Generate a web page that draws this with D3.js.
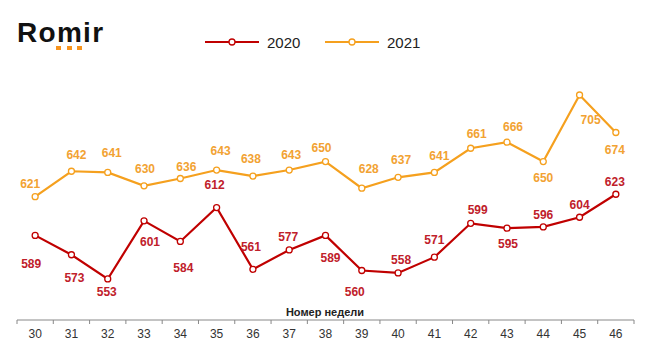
<!DOCTYPE html>
<html><head><meta charset="utf-8">
<script src="https://cdn.jsdelivr.net/npm/d3@7"></script>
<style>body{margin:0;background:#fff}svg{display:block}</style>
</head><body>
<script>
const weeks = ["30","31","32","33","34","35","36","37","38","39","40","41","42","43","44","45","46"];
const values2020 = [589,573,553,601,584,612,561,577,589,560,558,571,599,595,596,604,623];
const values2021 = [621,642,641,630,636,643,638,643,650,628,637,641,661,666,650,705,674];
const seriesNames = ["2020","2021"];
const axisTitle = "Номер недели";
// label nudges [dx, dy] relative to the point (label centre)
const place2020 = [[-4,28],[3,23],[-1,13],[6,21],[3,26],[-2,-23],[-2,-23],[-1,-13],[5,22],[-7,21],[3,-13],[0,-17],[7,-14],[1,16],[0,-12],[0,-13],[-1,-13]];
const place2021 = [[-5,-13],[5,-17],[4,-20],[1,-17],[6,-12],[4,-19],[-2,-17],[2,-15],[-4,-14],[7,-19],[3,-18],[5,-17],[6,-15],[6,-16],[0,16],[11,25],[-1,17]];

const W=653,H=359;
const svg=d3.select("body").append("svg").attr("width",W).attr("height",H);
const x=d3.scaleBand().domain(weeks).range([17,634]);
const y=d3.scaleLinear().domain([540,720]).range([294.7,76.85]);
const cx=d=>x(d)+x.bandwidth()/2;
const FONT="Liberation Sans, Arial, sans-serif";

// logo
svg.append("text").attr("x",17).attr("y",42).attr("font-family",FONT)
  .attr("font-weight","bold").attr("font-size",28).attr("fill","#111").attr("letter-spacing","1.3").text("Romir");
[56,67,77].forEach(px=>svg.append("rect").attr("x",px).attr("y",46).attr("width",5).attr("height",4).attr("fill","#F7941D"));

// axis
const ax=svg.append("g").attr("transform","translate(0,320)").call(d3.axisBottom(x).tickSize(0).tickPadding(9));
ax.select(".domain").attr("stroke","#888").attr("stroke-width",1).attr("d","M17,0H634");
ax.selectAll("text").attr("font-family",FONT).attr("font-size",12).attr("fill","#333");
const bounds=weeks.map(w=>x(w)).concat([634]);
svg.append("g").selectAll("line").data(bounds).join("line")
  .attr("x1",d=>d).attr("x2",d=>d).attr("y1",320).attr("y2",324).attr("stroke","#888");
svg.append("text").attr("x",325).attr("y",316).attr("text-anchor","middle")
  .attr("font-family",FONT).attr("font-weight","bold").attr("font-size",11).attr("fill","#222").text(axisTitle);

const series=[
  {name:seriesNames[0],vals:values2020,place:place2020,color:"#C00000",lab:"#C0202A"},
  {name:seriesNames[1],vals:values2021,place:place2021,color:"#F5A01E",lab:"#F2A232"}
];
const line=d3.line().x((d,i)=>cx(weeks[i])).y(d=>y(d));
series.forEach(s=>{
  const g=svg.append("g");
  g.append("path").attr("d",line(s.vals)).attr("fill","none").attr("stroke",s.color).attr("stroke-width",2.2);
  g.selectAll("circle").data(s.vals).join("circle").attr("cx",(d,i)=>cx(weeks[i])).attr("cy",d=>y(d))
    .attr("r",3).attr("fill","#fff").attr("stroke",s.color).attr("stroke-width",1.3);
  g.selectAll("text").data(s.vals).join("text")
    .attr("x",(d,i)=>cx(weeks[i])+s.place[i][0])
    .attr("y",(d,i)=>y(d)+s.place[i][1]+4.3)
    .attr("text-anchor","middle").attr("font-family",FONT)
    .attr("font-weight","bold").attr("font-size",12).attr("fill",s.lab).text(d=>d);
});

// legend
const leg=[{x:205,s:series[0]},{x:325,s:series[1]}];
leg.forEach(l=>{
  const g=svg.append("g");
  g.append("line").attr("x1",l.x).attr("x2",l.x+54).attr("y1",42).attr("y2",42).attr("stroke",l.s.color).attr("stroke-width",2.2);
  g.append("circle").attr("cx",l.x+27).attr("cy",42).attr("r",3).attr("fill","#fff").attr("stroke",l.s.color).attr("stroke-width",1.3);
  g.append("text").attr("x",l.x+62).attr("y",47.5).attr("font-family",FONT)
    .attr("font-size",15).attr("fill","#222").text(l.s.name);
});
</script>
</body></html>
